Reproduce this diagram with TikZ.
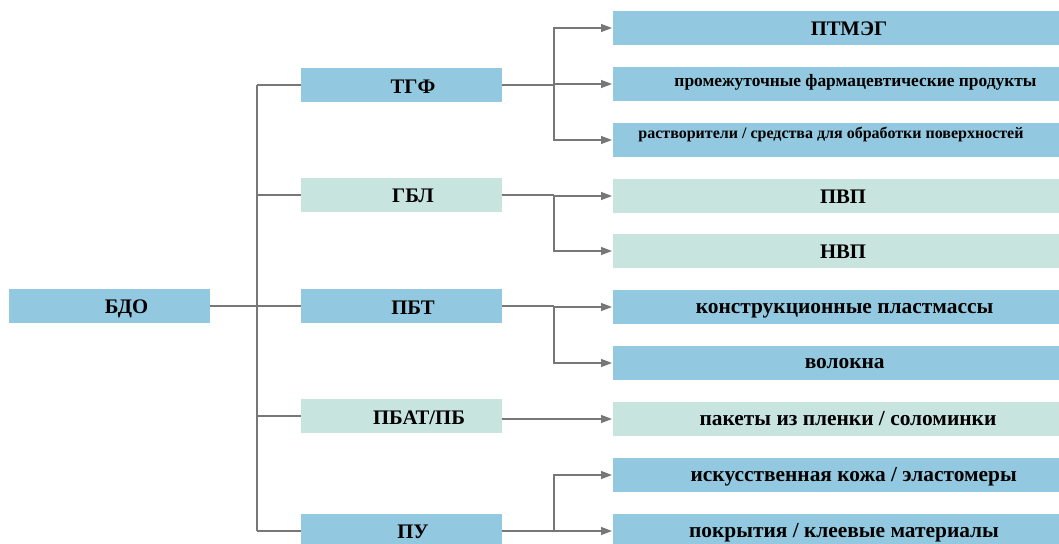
\documentclass[tikz,border=0pt]{standalone}
\usepackage{fontspec}
\setmainfont{Liberation Serif}
\usetikzlibrary{arrows.meta}
\definecolor{bblue}{HTML}{92C9E0}
\definecolor{bgreen}{HTML}{C8E4DF}
\definecolor{lgray}{HTML}{777777}
\tikzset{
  box/.style={inner sep=0pt, outer sep=0pt, draw=none},
  leftbox/.style={box, minimum width=201pt, minimum height=34pt},
  midbox/.style={box, minimum width=201pt, minimum height=34pt},
  rbox/.style={box, minimum width=446pt, minimum height=34pt},
  txt/.style={inner sep=0pt, anchor=base, font=\bfseries\fontsize{20.7}{24}\selectfont},
  ltxt/.style={txt, font=\bfseries\fontsize{21.4}{25}\selectfont},
  conn/.style={draw=lgray, line width=1.4pt},
  arr/.style={conn, -{Triangle[length=11pt,width=8pt]}, shorten >=1pt},
}
\begin{document}
\begin{tikzpicture}[x=1pt,y=-1pt]
\useasboundingbox (0,0) rectangle (1059,543);
\clip (0,0) rectangle (1059,543);
\coordinate (tx) at (257,0);
\coordinate (bx) at (554,0);
% left
\node[leftbox, fill=bblue] (bdo) at (109.5,306) {};
\node[txt] (tbdo) at (126.5,313) {БДО};
% middle
\node[midbox, fill=bblue] (tgf) at (401.5,85) {};
\node[txt] (ttgf) at (413,93.5) {ТГФ};
\node[midbox, fill=bgreen] (gbl) at (401.5,195) {};
\node[txt] (tgbl) at (413,202) {ГБЛ};
\node[midbox, fill=bblue] (pbt) at (401.5,306) {};
\node[txt] (tpbt) at (413,314) {ПБТ};
\node[midbox, fill=bgreen] (pbat) at (401.5,416) {};
\node[txt] (tpbat) at (419,424) {ПБАТ/ПБ};
\node[midbox, fill=bblue] (pu) at (401.5,531) {};
\node[txt] (tpu) at (413,538) {ПУ};
% right
\node[rbox, fill=bblue] (r1) at (836,28) {};
\node[txt] (t1) at (849,35.5) {ПТМЭГ};
\node[rbox, fill=bblue] (r2) at (836,84) {};
\node[txt, font=\bfseries\fontsize{17.4}{20}\selectfont] (t2) at (855.5,86.7) {промежуточные фармацевтические продукты};
\node[rbox, fill=bblue] (r3) at (836,140) {};
\node[txt, font=\bfseries\fontsize{16}{19}\selectfont] (t3) at (831,138) {растворители / средства для обработки поверхностей};
\node[rbox, fill=bgreen] (r4) at (836,196) {};
\node[txt] (t4) at (843,203) {ПВП};
\node[rbox, fill=bgreen] (r5) at (836,251) {};
\node[txt] (t5) at (843,258) {НВП};
\node[rbox, fill=bblue] (r6) at (836,307) {};
\node[ltxt] (t6) at (844.5,313.3) {конструкционные пластмассы};
\node[rbox, fill=bblue] (r7) at (836,363) {};
\node[ltxt] (t7) at (844.7,368.3) {волокна};
\node[rbox, fill=bgreen] (r8) at (836,419) {};
\node[ltxt] (t8) at (848,425) {пакеты из пленки / соломинки};
\node[rbox, fill=bblue] (r9) at (836,475) {};
\node[ltxt] (t9) at (853.7,481) {искусственная кожа / эластомеры};
\node[rbox, fill=bblue] (r10) at (836,531) {};
\node[ltxt] (t10) at (844,537) {покрытия / клеевые материалы};
% trunk
\draw[conn] (bdo.east) -- (bdo.east -| tx);
\draw[conn] (tgf.west -| tx) -- (pu.west -| tx);
\foreach \m in {tgf,gbl,pbt,pbat,pu} \draw[conn] (\m.west -| tx) -- (\m.west);
% TGF
\draw[conn] (tgf.east) -- (tgf.east -| bx);
\draw[arr] (tgf.east -| bx) |- (r1.west);
\draw[arr] (r2.west -| bx) -- (r2.west);
\draw[arr] (tgf.east -| bx) |- (r3.west);
% GBL
\draw[conn] (gbl.east) -- (gbl.east -| bx);
\draw[arr] (gbl.east -| bx) |- (r4.west);
\draw[arr] (gbl.east -| bx) |- (r5.west);
% PBT
\draw[conn] (pbt.east) -- (pbt.east -| bx);
\draw[arr] (pbt.east -| bx) |- (r6.west);
\draw[arr] (pbt.east -| bx) |- (r7.west);
% PBAT
\draw[arr] (pbat.east |- r8.west) -- (r8.west);
% PU
\draw[conn] (pu.east) -- (pu.east -| bx);
\draw[arr] (pu.east -| bx) |- (r9.west);
\draw[arr] (pu.east -| bx) |- (r10.west);
\end{tikzpicture}
\end{document}
